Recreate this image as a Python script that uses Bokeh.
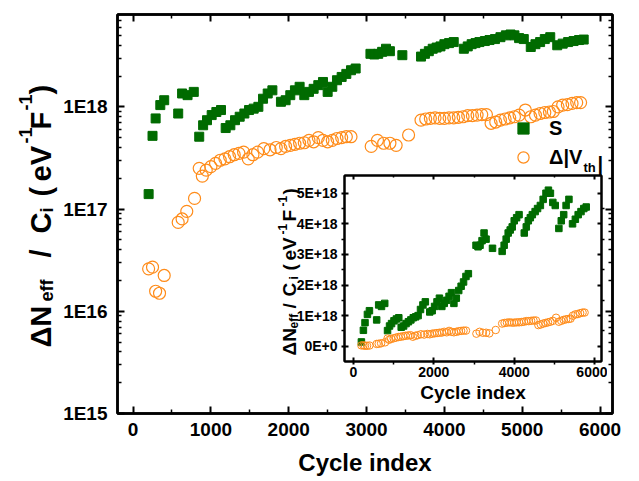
import numpy as np
from math import pi
from bokeh.plotting import figure
from bokeh.layouts import row
from bokeh.models import (Range1d, LinearAxis, LogAxis, FixedTicker, CustomJSTickFormatter,
                          Label, Legend, LegendItem, ColumnDataSource)
from bokeh.embed import file_html
from bokeh.resources import INLINE

# ---------------- data (values in units of 1E18 eV^-1 F^-1) ----------------
S_CYCLE = [200, 250, 290, 350, 400, 580, 630, 700, 780,
           850, 900, 950, 1010, 1070, 1130,
           1190, 1250, 1310, 1370, 1430, 1490, 1550, 1610, 1670, 1730, 1790,
           1900, 1960, 2020, 2080, 2140, 2200, 2260, 2320, 2380, 2440, 2500, 2560, 2620, 2680, 2740, 2800, 2860,
           3050, 3100, 3150, 3200, 3250, 3300, 3460,
           3700, 3750, 3800, 3850, 3900, 3950, 4000, 4060, 4120,
           4250, 4300, 4350, 4400, 4450, 4520, 4580, 4650, 4720, 4790, 4850, 4900, 4960, 5020,
           5110, 5170, 5230, 5290, 5360,
           5450, 5520, 5590, 5660, 5730, 5790]
S_VAL = [0.14, 0.52, 0.77, 1.04, 1.16, 0.86, 1.35, 1.30, 1.40,
         0.51, 0.66, 0.74, 0.83, 0.89, 0.93,
         0.62, 0.66, 0.74, 0.80, 0.86, 0.93, 0.96, 1.00, 1.20, 1.35, 1.45,
         1.12, 1.16, 1.30, 1.45, 1.57, 1.30, 1.40, 1.50, 1.63, 1.75, 1.40, 1.57, 1.82, 1.96, 2.10, 2.28, 2.37,
         3.30, 3.25, 3.30, 3.45, 3.70, 3.50, 3.20,
         3.10, 3.30, 3.50, 3.70, 3.80, 3.90, 4.10, 4.20, 4.30,
         3.70, 3.90, 4.10, 4.20, 4.30, 4.40, 4.50, 4.60, 4.80, 5.00, 5.10, 5.00, 4.70, 4.60,
         3.85, 4.10, 4.30, 4.60, 4.80,
         4.00, 4.15, 4.30, 4.40, 4.50, 4.55]

V_CYCLE = [200, 250, 290, 340, 400, 580, 630, 690, 790,
           850, 890, 940, 1000, 1060, 1120, 1180, 1240, 1300, 1360, 1420, 1480, 1540, 1600, 1680, 1760, 1840,
           1900, 1960, 2020, 2080, 2140, 2200, 2260, 2320, 2380, 2440, 2500, 2560, 2620, 2680, 2740, 2800,
           3060, 3140, 3220, 3300, 3380, 3540,
           3700, 3760, 3820, 3880, 3940, 4000, 4060, 4120, 4180, 4240, 4300, 4360, 4420, 4480, 4540,
           4600, 4660, 4720, 4780, 4840, 4900, 4960, 5040,
           5110, 5170, 5230, 5290, 5350, 5400,
           5460, 5520, 5580, 5640, 5700, 5750]
V_VAL = [0.026, 0.027, 0.0157, 0.015, 0.0224, 0.074, 0.080, 0.095, 0.127,
         0.25, 0.21, 0.24, 0.26, 0.28, 0.30, 0.31, 0.325, 0.34, 0.35, 0.36, 0.31, 0.34, 0.36, 0.39, 0.38, 0.40,
         0.39, 0.41, 0.42, 0.43, 0.44, 0.445, 0.47, 0.455, 0.50, 0.47, 0.455, 0.47, 0.49, 0.50, 0.51, 0.51,
         0.41, 0.47, 0.44, 0.44, 0.42, 0.53,
         0.74, 0.76, 0.77, 0.78, 0.77, 0.77, 0.78, 0.78, 0.79, 0.80, 0.82, 0.82, 0.83, 0.84, 0.84,
         0.69, 0.71, 0.74, 0.76, 0.78, 0.80, 0.83, 0.93,
         0.80, 0.83, 0.86, 0.88, 0.89, 0.90,
         1.00, 1.04, 1.05, 1.08, 1.10, 1.10]

SERIES_NAMES = ["S", "Δ|V"]
X_TICKS = [0, 1000, 2000, 3000, 4000, 5000, 6000]
X_MINOR = [500, 1500, 2500, 3500, 4500, 5500]
Y_TICKS = [1e15, 1e16, 1e17, 1e18]
IN_X_TICKS = [0, 2000, 4000, 6000]
IN_X_MINOR = [1000, 3000, 5000]
IN_Y_TICKS = [0, 1e18, 2e18, 3e18, 4e18, 5e18]
IN_Y_MINOR = [0.5e18, 1.5e18, 2.5e18, 3.5e18, 4.5e18]

GREEN = "#006b00"
ORANGE = "#ff8c1a"
FONT = "Liberation Sans"
PAGE_W, PAGE_H = 639, 481
ABS_SHIFT_X, ABS_SHIFT_Y = 2, 0

s_src = ColumnDataSource(dict(cycle=S_CYCLE, val=np.array(S_VAL) * 1e18))
v_src = ColumnDataSource(dict(cycle=V_CYCLE, val=np.array(V_VAL) * 1e18))

# ---------------- main plot ----------------
FL, FT, FR, FB = 117, 14, 612, 413
TOP_B, BOT_B = FT, PAGE_H - FB      # shared top/bottom borders (row aligns them)
main = figure(width=PAGE_W, height=PAGE_H, min_border_left=FL, min_border_right=PAGE_W - FR,
              min_border_top=TOP_B, min_border_bottom=BOT_B,
              x_range=Range1d(-200, 6160), y_range=Range1d(1e15, 8e18), y_axis_type="log",
              output_backend="svg", toolbar_location=None,
              background_fill_color="white", border_fill_color="white")
main.grid.visible = False
main.outline_line_color = "black"
main.outline_line_width = 2.5

log_minor = [m * 10 ** e for e in range(15, 19) for m in range(2, 10) if m * 10 ** e < 8e18]
blank = CustomJSTickFormatter(code="return '';")


def style_axis(ax, size="19px", tin=7, tout=0, min_in=4, min_out=0, lw=2.5):
    ax.axis_line_width = lw
    ax.axis_line_color = "black"
    ax.major_tick_line_width = 2
    ax.minor_tick_line_width = 1.5
    ax.major_tick_line_color = "black"
    ax.minor_tick_line_color = "black"
    ax.major_tick_in = tin
    ax.major_tick_out = tout
    ax.minor_tick_in = min_in
    ax.minor_tick_out = min_out
    ax.major_label_text_font = FONT
    ax.major_label_text_font_style = "bold"
    ax.major_label_text_font_size = size
    ax.major_label_text_color = "black"


def mirror(ax):
    ax.formatter = blank
    ax.major_label_text_font_size = "0px"
    ax.major_label_standoff = 0


xax = main.xaxis[0]
xax.ticker = FixedTicker(ticks=X_TICKS, minor_ticks=X_MINOR)
style_axis(xax)
xax.major_label_standoff = 9
xax.axis_label = "Cycle index"
xax.axis_label_text_font = FONT
xax.axis_label_text_font_style = "bold"
xax.axis_label_text_font_size = "24px"
xax.axis_label_text_color = "black"
xax.axis_label_standoff = 10

yax = main.yaxis[0]
yax.ticker = FixedTicker(ticks=Y_TICKS, minor_ticks=log_minor)
yax.formatter = CustomJSTickFormatter(code="return '1E' + Math.round(Math.log10(tick));")
style_axis(yax)
yax.major_label_standoff = 10

top_ax = LinearAxis(ticker=FixedTicker(ticks=X_TICKS, minor_ticks=X_MINOR))
style_axis(top_ax)
mirror(top_ax)
main.add_layout(top_ax, "above")
right_ax = LogAxis(ticker=FixedTicker(ticks=Y_TICKS, minor_ticks=log_minor))
style_axis(right_ax)
mirror(right_ax)
main.add_layout(right_ax, "right")

sq = main.scatter(x="cycle", y="val", source=s_src, marker="square", size=9,
                  fill_color=GREEN, line_color=GREEN)
ci = main.scatter(x="cycle", y="val", source=v_src, marker="circle", size=12,
                  fill_color=None, line_color=ORANGE, line_width=1.2)

legend = Legend(items=[LegendItem(label=SERIES_NAMES[0], renderers=[sq]),
                       LegendItem(label=SERIES_NAMES[1], renderers=[ci])],
                location=(392, 242), padding=0, margin=0, spacing=1,
                glyph_width=28, glyph_height=28, label_height=28, label_standoff=12,
                border_line_color=None, background_fill_alpha=0,
                label_text_font=FONT, label_text_font_style="bold",
                label_text_font_size="20px", label_text_color="black")
main.add_layout(legend)

# ---------------- inset (same top/bottom border sizes as the main plot) ----------------
IL, IT, IR, IB = 346, 175, 603, 361
CANVAS_L = 258
CANVAS_T = IT - TOP_B
CANVAS_W = 351
CANVAS_H = TOP_B + (IB - IT) + BOT_B
ins = figure(width=CANVAS_W, height=CANVAS_H,
             min_border_left=IL - CANVAS_L, min_border_right=CANVAS_L + CANVAS_W - IR,
             min_border_top=TOP_B, min_border_bottom=BOT_B,
             x_range=Range1d(-220, 6170), y_range=Range1d(-0.5e18, 5.58e18),
             output_backend="svg", toolbar_location=None,
             background_fill_color="white", border_fill_alpha=0,
             styles={"position": "absolute", "left": f"{CANVAS_L - ABS_SHIFT_X}px",
                     "top": f"{CANVAS_T - ABS_SHIFT_Y}px"})
ins.grid.visible = False
ins.outline_line_color = "black"
ins.outline_line_width = 2

ix = ins.xaxis[0]
ix.ticker = FixedTicker(ticks=IN_X_TICKS, minor_ticks=IN_X_MINOR)
style_axis(ix, size="14px", tin=4, tout=3, min_in=0, min_out=3, lw=2)
ix.major_label_standoff = 2
ix.axis_label = "Cycle index"
ix.axis_label_text_font = FONT
ix.axis_label_text_font_style = "bold"
ix.axis_label_text_font_size = "19px"
ix.axis_label_text_color = "black"
ix.axis_label_standoff = 2

iy = ins.yaxis[0]
iy.ticker = FixedTicker(ticks=IN_Y_TICKS, minor_ticks=IN_Y_MINOR)
iy.formatter = CustomJSTickFormatter(
    code="if (Math.abs(tick) < 1) { return '0E+0'; } return Math.round(tick / 1e18) + 'E+18';")
style_axis(iy, size="14px", tin=4, tout=3, min_in=0, min_out=3, lw=2)
iy.major_label_standoff = 4

itop = LinearAxis(ticker=FixedTicker(ticks=IN_X_TICKS, minor_ticks=IN_X_MINOR))
style_axis(itop, size="14px", tin=4, tout=0, min_in=2, min_out=0, lw=2)
mirror(itop)
ins.add_layout(itop, "above")
iright = LinearAxis(ticker=FixedTicker(ticks=IN_Y_TICKS, minor_ticks=IN_Y_MINOR))
style_axis(iright, size="14px", tin=4, tout=0, min_in=0, min_out=3, lw=2)
mirror(iright)
ins.add_layout(iright, "right")

ins.scatter(x="cycle", y="val", source=s_src, marker="square", size=6.5,
            fill_color=GREEN, line_color=GREEN)
ins.scatter(x="cycle", y="val", source=v_src, marker="circle", size=7.5,
            fill_color=None, line_color=ORANGE, line_width=1)

# ---------------- transparent overlay for composite titles (page pixel coordinates) ----------------
ov = figure(width=PAGE_W, height=PAGE_H,
            x_range=Range1d(0, PAGE_W), y_range=Range1d(PAGE_H - FB, PAGE_H - FT),
            x_axis_location=None, y_axis_location=None,
            min_border_left=0, min_border_right=0, min_border_top=TOP_B, min_border_bottom=BOT_B,
            output_backend="svg", toolbar_location=None,
            background_fill_alpha=0, border_fill_alpha=0, outline_line_color=None,
            styles={"position": "absolute", "left": "0px", "top": "0px"})
ov.grid.visible = False


def lab(px, py, text, size, angle=0.0):
    return Label(x=px, y=PAGE_H - py, text=text, angle=angle,
                 text_align="left", text_baseline="alphabetic",
                 text_font=FONT, text_font_style="bold", text_font_size=f"{size}px",
                 text_color="black")


# legend subscript
ov.add_layout(lab(583, 167, "th", 13))
ov.add_layout(lab(597, 163, "|", 20))

# main y title
MB, SB, UB = 40, 46, 25
for text, start, kind in [("ΔN", 347, "m"), ("eff", 301, "s"), ("/", 257, "m"), ("C", 233, "m"),
                          ("i", 212, "s"), ("(", 196, "m"), ("eV", 181, "m"), ("-1", 143, "u"),
                          ("F", 129, "m"), ("-1", 110, "u"), (")", 94, "m")]:
    base = {"m": MB, "s": SB, "u": UB}[kind]
    size = 29 if kind == "m" else 18
    ov.add_layout(lab(base, start, text, size, angle=pi / 2))

# inset y title
IMB, ISB, IUB = 289, 293, 282
for text, start, kind in [("ΔN", 355, "m"), ("eff", 328, "s"), ("/", 308, "m"), ("C", 296, "m"),
                          ("i", 279, "s"), ("(", 270, "m"), ("eV", 260, "m"), ("-1", 234, "u"),
                          ("F", 221, "m"), ("-1", 206, "u"), (")", 194, "m")]:
    base = {"m": IMB, "s": ISB, "u": IUB}[kind]
    size = 19 if kind == "m" else 12
    ov.add_layout(lab(base, start, text, size, angle=pi / 2))

layout = row(main, ins, ov)
open("out.html", "w").write(file_html(layout, INLINE))
